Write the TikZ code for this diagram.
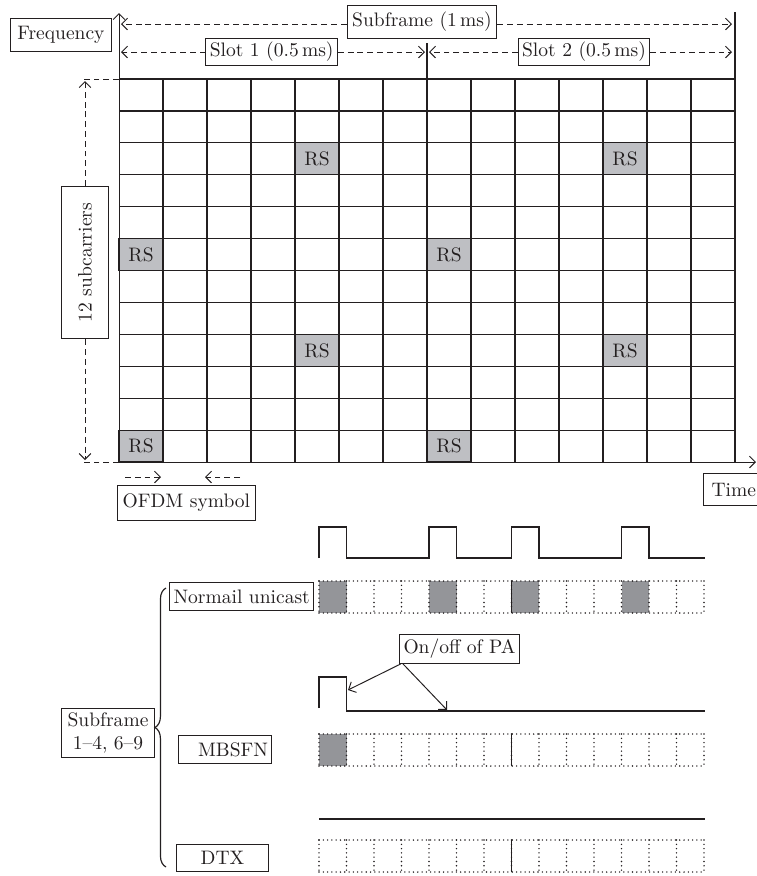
\documentclass[tikz,border=0pt]{standalone}
\usepackage{xcolor}
\usepackage{tikz}
\usetikzlibrary{arrows.meta,positioning,calc,decorations.pathreplacing}
\definecolor{lteInk}{HTML}{231F20}
\definecolor{lteRS}{HTML}{BEBFC3}
\definecolor{lteOn}{HTML}{949599}
\tikzset{
  lbox/.style={rectangle,draw=lteInk,line width=0.5pt,inner sep=2pt,
    minimum height=0.5cm,align=center,font=\normalsize,text=lteInk},
  rscell/.style={rectangle,draw=lteInk,fill=lteRS,line width=0.6pt,
    minimum width=0.792cm,minimum height=0.5745cm,inner sep=0pt,
    text=lteInk},
  gline/.style={line width=0.6pt,draw=lteInk},
  pline/.style={line width=0.6pt,draw=lteInk},
  dotl/.style={line width=0.8pt,draw=lteInk,line cap=round,
    dash pattern=on 0pt off 2.2pt},
  dashl/.style={line width=0.5pt,draw=lteInk,dash pattern=on 3pt off 2pt},
  arr/.style={-{Straight Barb[length=3pt,width=6pt]},line width=0.5pt,
    draw=lteInk},
  arrd/.style={arr,dash pattern=on 3pt off 2pt},
}

\begin{document}
\begin{tikzpicture}[x=0.018cm,y=-0.018cm]
  \useasboundingbox (0,0) rectangle (757,876);

  % resource grid
  \coordinate (g-nw) at (119,79);
  \coordinate (g-ne) at (735,79);
  \coordinate (g-sw) at (119,462);
  \coordinate (g-se) at (735,462);
  \coordinate (f-tip) at (119,13);
  \coordinate (t-tip) at (756,462);
  \coordinate (sf-top) at (735,12);
  \coordinate (slot-top) at (427,43);
  \coordinate (slot-bot) at (427,79);

  \foreach \c/\r in {4/2,11/2,0/5,7/5,4/8,11/8,0/11,7/11}
    \node[rscell] (rs-\c-\r) at (141+44*\c,95+31.917*\r) {RS};
  \foreach \i in {1,...,14}
    \draw[gline] (119+44*\i,79) -- (119+44*\i,462);
  \foreach \j in {0,...,11}
    \draw[gline] (119,79+31.917*\j) -- (735,79+31.917*\j);

  \draw[arr] (g-sw) -- (f-tip);
  \draw[arr] (g-sw) -- (t-tip);
  \draw[gline] (g-ne) -- (sf-top);
  \draw[gline] (slot-bot) -- (slot-top);

  % labels above the grid
  \node[lbox,minimum width=1.83cm,minimum height=0.59cm] (freq) at (61,35)
    {Frequency};
  \node[lbox,minimum width=2.7cm,minimum height=0.6cm] (sub) at (422,22)
    {Subframe (1\,ms)};
  \node[lbox,minimum width=2.22cm,minimum height=0.45cm] (slot1) at (271.7,52)
    {Slot 1 (0.5\,ms)};
  \node[lbox,minimum width=2.35cm,minimum height=0.45cm] (slot2) at (584,52)
    {Slot 2 (0.5\,ms)};

  \coordinate (sf-l) at (121,24);
  \coordinate (sf-r) at (732,24);
  \coordinate (s1-l) at (121,52);
  \coordinate (s1-r) at (425,52);
  \coordinate (s2-l) at (429,52);
  \coordinate (s2-r) at (732,52);
  \draw[arrd] (sub.west |- sf-l) -- (sf-l);
  \draw[arrd] (sub.east |- sf-r) -- (sf-r);
  \draw[arrd] (slot1) -- (s1-l);
  \draw[arrd] (slot1) -- (s1-r);
  \draw[arrd] (slot2) -- (s2-l);
  \draw[arrd] (slot2) -- (s2-r);

  % subcarrier span
  \node[lbox,rotate=90,minimum width=2.75cm,minimum height=0.86cm] (sc)
    at (85,262.5) {12 subcarriers};
  \coordinate (sc-t) at (85,81);
  \coordinate (sc-b) at (85,460);
  \draw[dashl] (g-nw) -- ++(-38,0);
  \draw[dashl] (g-sw) -- ++(-38,0);
  \draw[arrd] (sc.east) -- (sc-t);
  \draw[arrd] (sc.west) -- (sc-b);

  % OFDM symbol and time
  \node[lbox,minimum width=2.47cm,minimum height=0.63cm] (ofdm)
    at (186.4,502.5) {OFDM symbol};
  \coordinate (o-a) at (125,477);
  \coordinate (o-b) at (161,477);
  \coordinate (o-c) at (240,477);
  \coordinate (o-d) at (205,477);
  \draw[arrd] (o-a) -- (o-b);
  \draw[arrd] (o-c) -- (o-d);
  \node[lbox,anchor=west,inner xsep=4pt,minimum height=0.59cm] (time)
    at (703.3,489.5) {Time};

  % subframe types
  \node[lbox,minimum width=2.58cm,minimum height=0.51cm] (uni) at (241.7,596.5)
    {Normail unicast};
  \node[lbox,text width=1.55cm,align=right,minimum height=0.5cm] (mbsfn)
    at (225,749.5) {MBSFN};
  \node[lbox,minimum width=1.65cm,minimum height=0.5cm] (dtx) at (222.5,858)
    {DTX};
  \node[lbox,minimum width=1.69cm,minimum height=0.89cm] (sfn) at (108,733)
    {Subframe\\1--4, 6--9};
  \coordinate (br-t) at (166,588);
  \coordinate (br-b) at (166,867);
  \draw[pline,decorate,decoration={brace,amplitude=0.2cm}] (br-b) -- (br-t);

  % PA on/off traces
  \draw[pline] (319,558) -- (319,527) -- (346.5,527) -- (346.5,558)
    -- (429,558) -- (429,527) -- (456.5,527) -- (456.5,558)
    -- (511.5,558) -- (511.5,527) -- (539,527) -- (539,558)
    -- (621.5,558) -- (621.5,527) -- (649,527) -- (649,558) -- (705,558);
  \draw[pline] (319,708) -- (319,677) -- (346.5,677) -- (346.5,711)
    -- (705,711);
  \draw[pline] (319,819) -- (705,819);

  \node[lbox,minimum width=2.06cm,minimum height=0.53cm] (pa) at (459.5,648.7)
    {On/off of PA};
  \coordinate (pa-on) at (348,690);
  \coordinate (pa-off) at (447,710);
  \draw[arr] ([xshift=0.03cm]pa.south west) -- (pa-on);
  \draw[arr] ([xshift=0.07cm]pa.south west) -- (pa-off);

  % symbol rows
  \foreach \c in {0,4,7,11}
    \fill[lteOn] (319+27.5*\c,581) rectangle ++(27.5,32);
  \fill[lteOn] (319,734) rectangle ++(27.5,32);
  \foreach \y in {581,734,840} {
    \draw[dotl] (319,\y) -- (704,\y);
    \draw[dotl] (319,\y+32) -- (704,\y+32);
    \foreach \c in {0,...,14}
      \draw[dotl] (319+27.5*\c,\y) -- ++(0,32);
    \draw[pline] (511.5,\y) -- ++(0,32);
  }
\end{tikzpicture}
\end{document}
